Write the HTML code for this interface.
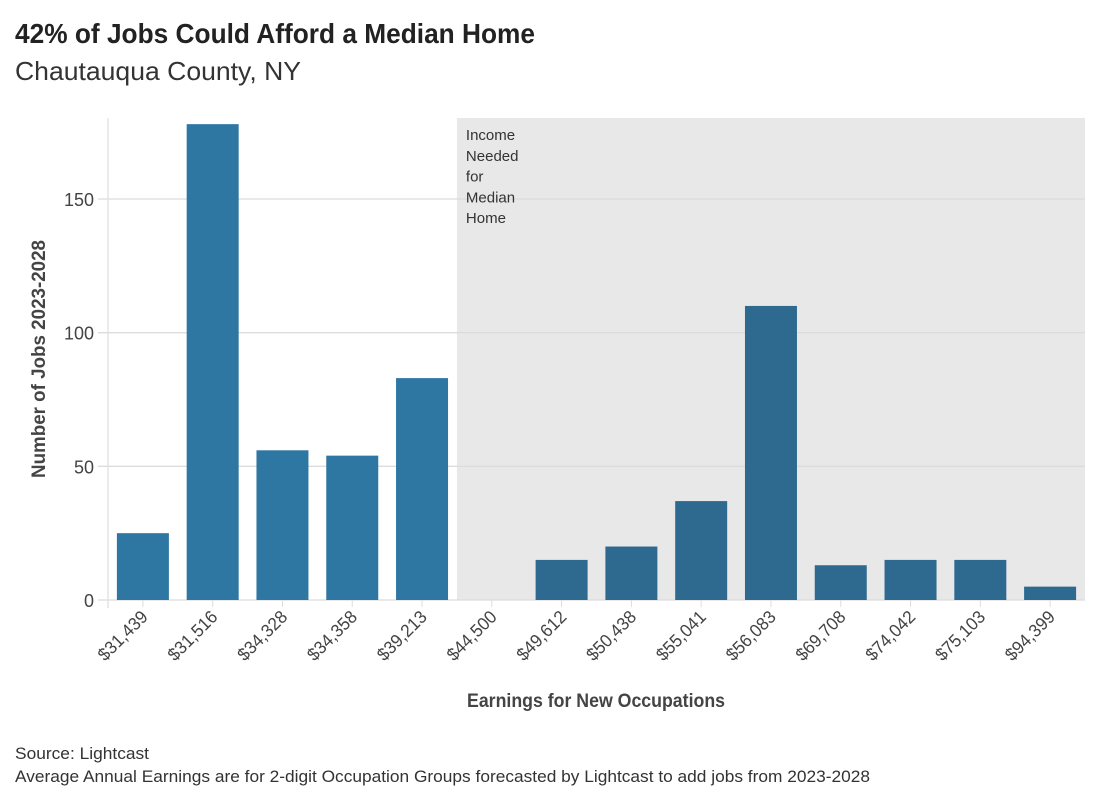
<!DOCTYPE html>
<html><head><meta charset="utf-8"><style>
body{margin:0;background:#fff;width:1112px;height:803px;overflow:hidden;font-family:"Liberation Sans Narrow","Liberation Sans",sans-serif}
svg text{font-family:"Liberation Sans Narrow","Liberation Sans",sans-serif}
</style></head><body>
<svg id="chart" width="1112" height="803" xmlns="http://www.w3.org/2000/svg">
<text x="15" y="43" font-size="28" font-weight="bold" fill="#222" textLength="520" lengthAdjust="spacingAndGlyphs">42% of Jobs Could Afford a Median Home</text>
<text x="15" y="80" font-size="26" fill="#333" textLength="286" lengthAdjust="spacingAndGlyphs">Chautauqua County, NY</text>
<g id="plot"></g>
<text x="596" y="707" font-size="19" font-weight="bold" fill="#444" text-anchor="middle" textLength="258" lengthAdjust="spacingAndGlyphs">Earnings for New Occupations</text>
<text transform="translate(45,359) rotate(-90)" font-size="19" font-weight="bold" fill="#444" text-anchor="middle" textLength="238" lengthAdjust="spacingAndGlyphs">Number of Jobs 2023-2028</text>
<text x="15" y="759" font-size="17" fill="#333" textLength="134" lengthAdjust="spacingAndGlyphs">Source: Lightcast</text>
<text x="15" y="782" font-size="17" fill="#333" textLength="855" lengthAdjust="spacingAndGlyphs">Average Annual Earnings are for 2-digit Occupation Groups forecasted by Lightcast to add jobs from 2023-2028</text>
</svg>
<script>
const categories=["$31,439","$31,516","$34,328","$34,358","$39,213","$44,500","$49,612","$50,438","$55,041","$56,083","$69,708","$74,042","$75,103","$94,399"];
const jobs=[25,178,56,54,83,0,15,20,37,110,13,15,15,5];
const yTicks=[0,50,100,150];
const thresholdIndex=5;
const NS="http://www.w3.org/2000/svg";
const g=document.getElementById('plot');
const L=108,R=1085,T=118,B=600,yMax=180.3;
const step=(R-L)/categories.length;
const x=i=>L+step*i;
const y=v=>B-(B-T)*v/yMax;
function mk(t,a){const e=document.createElementNS(NS,t);for(const k in a)e.setAttribute(k,a[k]);g.appendChild(e);return e;}
let e=mk('rect',{x:x(thresholdIndex),y:T,width:R-x(thresholdIndex),height:B-T,fill:'#e8e8e8'});


yTicks.forEach(v=>{
 const l=mk('line',{x1:98,x2:R,y1:y(v),y2:y(v),stroke:'#dcdcdc','stroke-width':1.3});
 
 
 const t=mk('text',{x:94,y:y(v)+7,'font-size':18,fill:'#444','text-anchor':'end'});t.textContent=v;
 
 
});
e=mk('line',{x1:L,x2:L,y1:T,y2:B+8,stroke:'#e0e0e0','stroke-width':1.3});


let lb=mk('text',{x:x(thresholdIndex)+9,'font-size':15,fill:'#333'});


["Income","Needed","for","Median","Home"].forEach((w,i)=>{const s=document.createElementNS(NS,'tspan');s.setAttribute('x',x(thresholdIndex)+9);s.setAttribute('y',140+i*20.8);s.textContent=w;lb.appendChild(s);});
categories.forEach((c,i)=>{
 const cx=x(i)+step/2,bw=52;
 if(jobs[i]>0){
  const r=mk('rect',{x:cx-bw/2,y:y(jobs[i]),width:bw,height:B-y(jobs[i]),fill:i>=thresholdIndex?'#2e6a90':'#2f77a3'});
  
  
 }
 const tk=mk('line',{x1:cx,x2:cx,y1:B,y2:B+7,stroke:'#ddd'});
 
 
 const t=mk('text',{transform:`translate(${cx+6},${B+18}) rotate(-45)`,'font-size':18,fill:'#444','text-anchor':'end',textLength:62,lengthAdjust:'spacingAndGlyphs'});t.textContent=c;
 
 
});
</script>
</body></html>
